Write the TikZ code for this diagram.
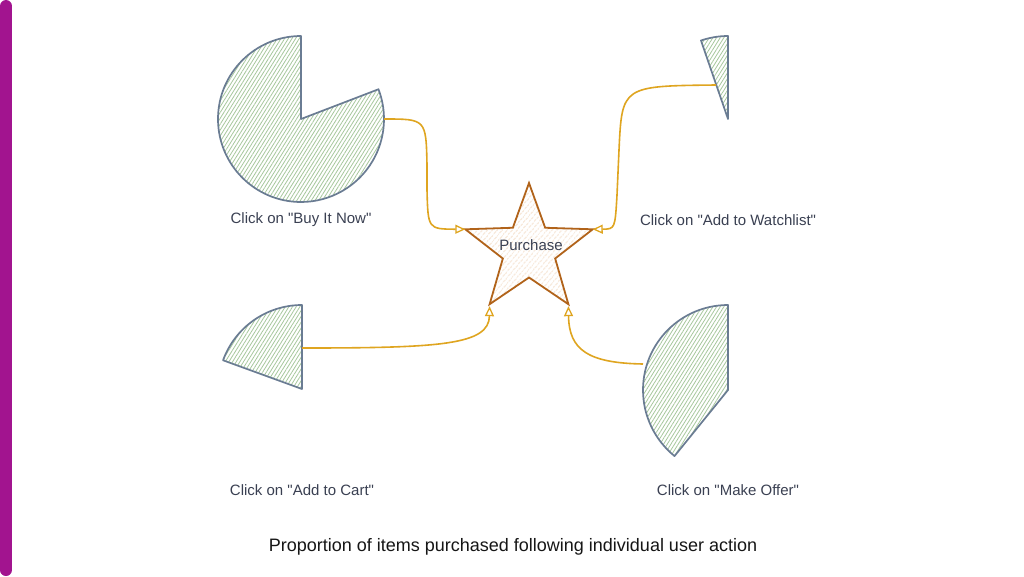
\documentclass[tikz,border=0pt]{standalone}
\usepackage{fontspec}
\setmainfont{Liberation Sans}[Ligatures=TeXOff]
\usetikzlibrary{patterns.meta,arrows.meta}
\definecolor{piestroke}{HTML}{6A7C93}
\definecolor{piehatch}{HTML}{A6C79C}
\definecolor{starstroke}{HTML}{B1631A}
\definecolor{starhatch}{HTML}{EDC7A3}
\definecolor{linkcol}{HTML}{DFA520}
\definecolor{labelcol}{HTML}{3A4052}
\definecolor{captioncol}{HTML}{161616}
\definecolor{barcol}{HTML}{A2148F}
\begin{document}
\begin{tikzpicture}[x=1pt,y=-1pt,
  pieshape/.style={draw=piestroke, line width=1.7pt, line join=round,
    pattern={Lines[angle=58,distance=3.1pt,line width=0.8pt]}, pattern color=piehatch},
  starshape/.style={draw=starstroke, line width=1.8pt, line join=miter,
    pattern={Lines[angle=50,distance=4pt,line width=0.7pt]}, pattern color=starhatch},
  link/.style={draw=linkcol, line width=1.6pt,
    -{Triangle[open,length=10pt,width=9pt,line width=1.3pt]}},
  lbl/.style={text=labelcol, font=\fontsize{15}{18}\selectfont, inner sep=0pt},
  caption/.style={text=captioncol, font=\fontsize{18}{22}\selectfont, inner sep=0pt}]
\useasboundingbox (0,0) rectangle (1024,576);
\fill[white] (0,0) rectangle (1024,576);
% left bar
\draw[barcol, line width=12pt, line cap=round] (6,6) -- (6,570);
% pies
\draw[pieshape] (301,119) -- ++(-90:83) arc[start angle=-90,end angle=-381,radius=83] -- cycle;
\draw[pieshape] (728,119) -- ++(-90:83) arc[start angle=-90,end angle=-109,radius=83] -- cycle;
\draw[pieshape] (302,389) -- ++(-90:84) arc[start angle=-90,end angle=-160,radius=84] -- cycle;
\draw[pieshape] (728,390) -- ++(-90:85) arc[start angle=-90,end angle=-231,radius=85] -- cycle;
% star
\draw[starshape, shift={(529,250)}]
  (-90:67) coordinate (sT) -- (-126:27.5) -- (-162:67) coordinate (sL) -- (-198:27.5)
  -- (-234:67) coordinate (sBL) -- (-270:27.5) -- (-306:67) coordinate (sBR)
  -- (-342:27.5) -- (-378:67) coordinate (sR) -- (-414:27.5) -- cycle;
\node[lbl] (purchase) at (531,245) {Purchase};
% connector ends on pies
\coordinate (p1) at (384,119);
\coordinate (p2) at (716,85);
\coordinate (p3) at (302,348);
\coordinate (p4) at (643,364);
% connectors
\draw[link] (p1) .. controls (426,119) .. (427,165) -- (427,190) .. controls (428,229) .. (sL);
\draw[link] (p2) .. controls (622,86) .. (619,150) -- (617,195) .. controls (615,229) .. (sR);
\draw[link, shorten >=2pt] (p3) .. controls (440,348) and (489,345) .. (sBL);
\draw[link, shorten >=2pt] (p4) .. controls (588,363) and (569,350) .. (sBR);
% labels
\node[lbl] (l1) at (301,220) {Click on "Buy It Now"};
\node[lbl] (l2) at (728,220) {Click on "Add to Watchlist"};
\node[lbl] (l3) at (302,490) {Click on "Add to Cart"};
\node[lbl] (l4) at (728,490) {Click on "Make Offer"};
\node[caption] (cap) at (513,547) {Proportion of items purchased following individual user action};
\end{tikzpicture}
\end{document}
